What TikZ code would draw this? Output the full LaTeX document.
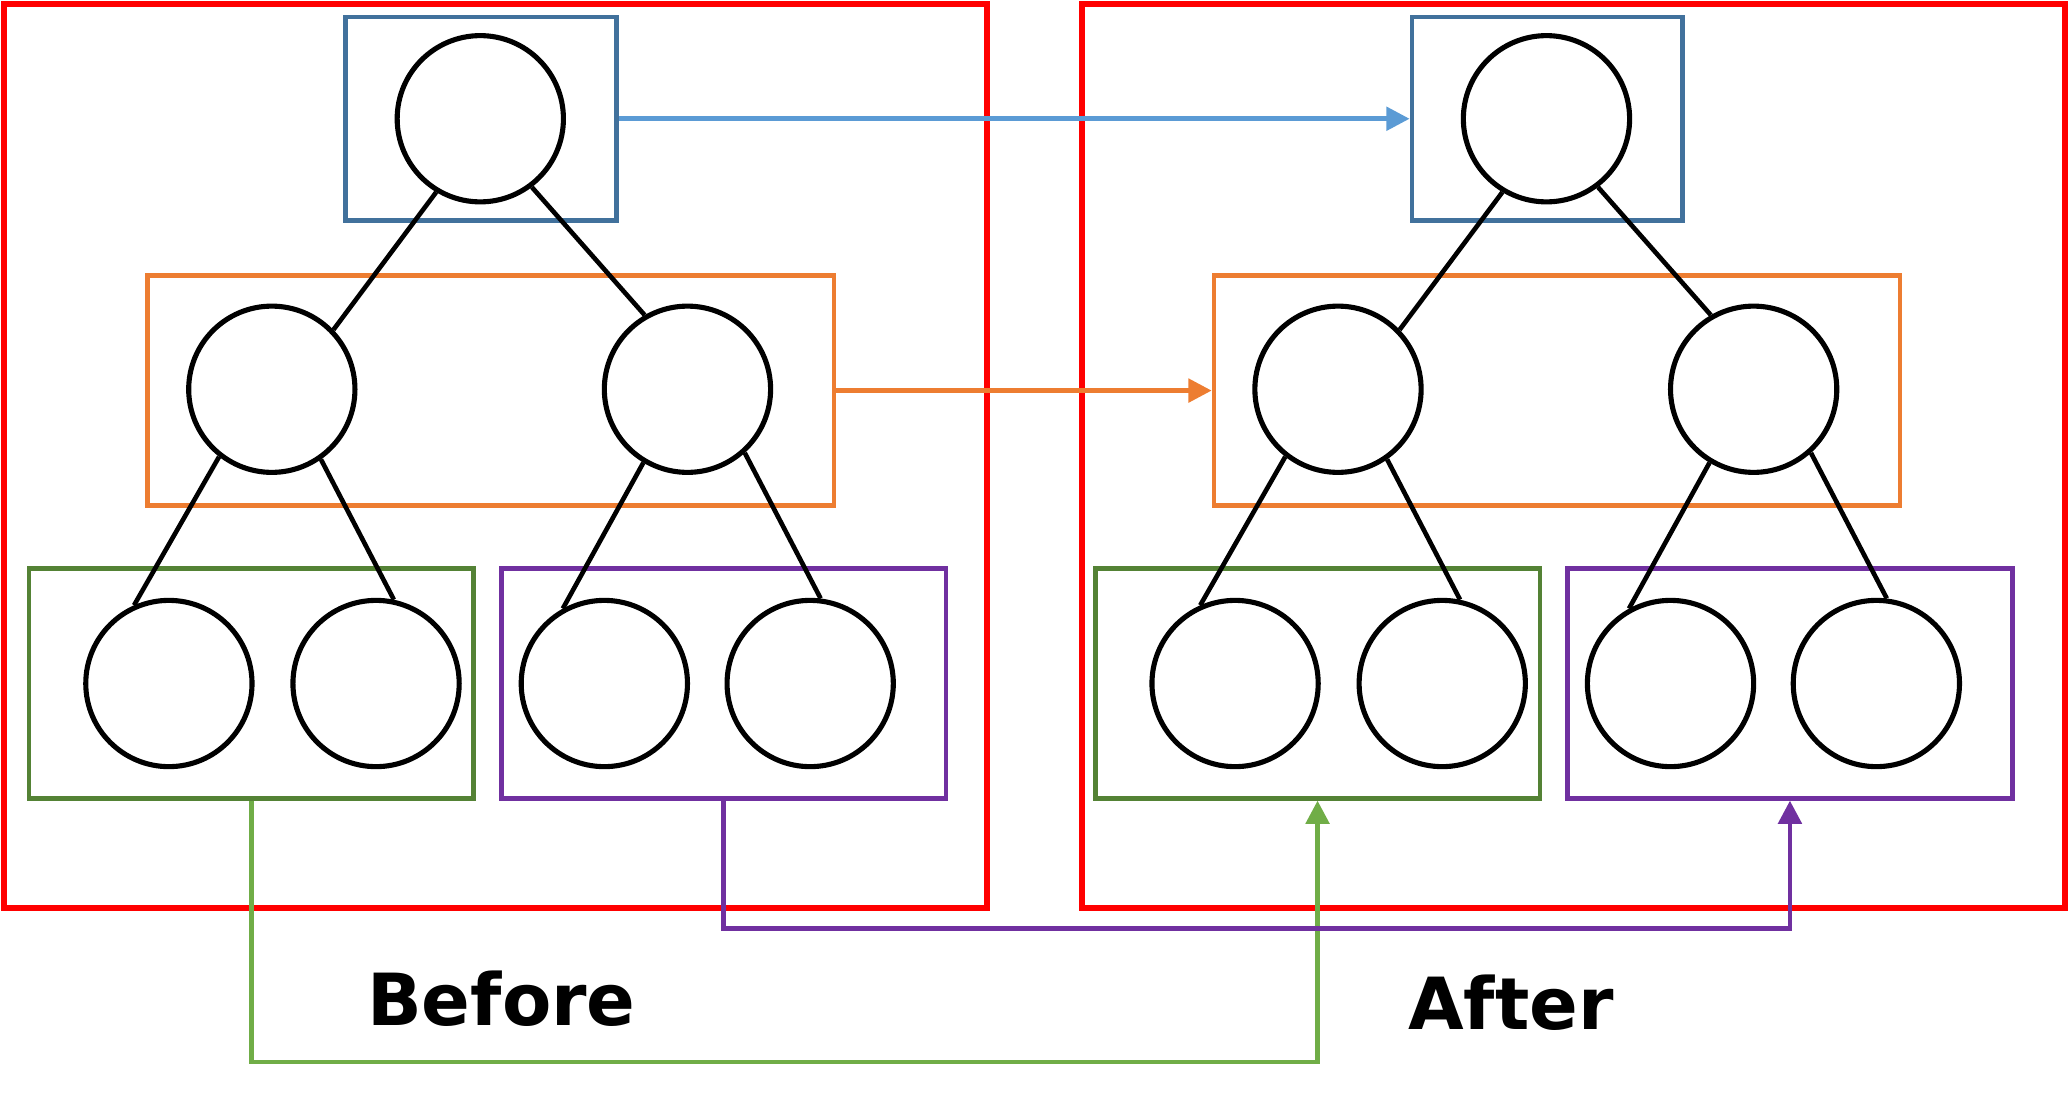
\documentclass[tikz,border=0pt]{standalone}
\usepackage{fontspec}
\setmainfont{Noto Sans}
\newfontfamily\lblfont{DejaVu Sans}
\usetikzlibrary{arrows.meta}
\definecolor{cblue}{HTML}{41719C}
\definecolor{cblueA}{HTML}{5B9BD5}
\definecolor{corange}{HTML}{ED7D31}
\definecolor{cgreen}{HTML}{548235}
\definecolor{cgreenA}{HTML}{70AD47}
\definecolor{cpurple}{HTML}{7030A0}
\begin{document}
\begin{tikzpicture}[
  tn/.style={circle,draw=black,line width=1.1pt,minimum size=1.26cm,inner sep=0pt},
  grp/.style={draw=#1,line width=1pt,inner sep=0pt},
  frame/.style={draw=red,line width=1.3pt,minimum width=7.45cm,minimum height=6.85cm,inner sep=0pt},
  ed/.style={draw=black,line width=1pt},
  conn/.style={draw=#1,line width=1pt,-{Triangle[length=5pt,width=5pt]}},
  lbl/.style={font=\lblfont\bfseries\fontsize{15.5}{18}\selectfont}
]
\useasboundingbox (0,0) rectangle (15.68,-8.314);
\node[frame] (Lframe) at (3.755,-3.455) {};
\node[frame] (Rframe) at (11.925,-3.455) {};
\foreach \s/\dx in {L/0,R/8.08}{
  \node[grp=cblue,minimum width=2.05cm,minimum height=1.54cm] (\s blue) at (3.645+\dx,-0.90) {};
  \node[grp=corange,minimum width=5.20cm,minimum height=1.74cm] (\s orange) at (3.72+\dx,-2.96) {};
  \node[grp=cgreen,minimum width=3.37cm,minimum height=1.74cm] (\s green) at (1.905+\dx,-5.18) {};
  \node[grp=cpurple,minimum width=3.37cm,minimum height=1.74cm] (\s purple) at (5.485+\dx,-5.18) {};
  \node[tn] (\s r) at (3.64+\dx,-0.90) {};
  \node[tn] (\s a) at (2.06+\dx,-2.95) {};
  \node[tn] (\s b) at (5.21+\dx,-2.95) {};
  \node[tn] (\s c) at (1.28+\dx,-5.18) {};
  \node[tn] (\s d) at (2.85+\dx,-5.18) {};
  \node[tn] (\s e) at (4.58+\dx,-5.18) {};
  \node[tn] (\s f) at (6.14+\dx,-5.18) {};
  \draw[ed] (\s r.239) -- (\s a.44);
  \draw[ed] (\s r.-53) -- (\s b.120);
  \draw[ed] (\s a.232) -- (\s c.114);
  \draw[ed] (\s a.-55) -- (\s d.78);
  \draw[ed] (\s b.239) -- (\s e.119);
  \draw[ed] (\s b.-48) -- (\s f.83);
}
\draw[conn=cblueA] (Lblue.east) -- (Rblue.west);
\draw[conn=corange] (Lorange.east) -- (Rorange.west);
\draw[conn=cgreenA] (Lgreen.south) -- ++(0,-1.98) coordinate (g1) -| (Rgreen.south);
\draw[conn=cpurple] (Lpurple.south) -- ++(0,-0.97) coordinate (p1) -| (Rpurple.south);
\node[lbl] (before) at (3.80,-7.57) {Before};
\node[lbl] (after) at (11.45,-7.60) {After};
\end{tikzpicture}
\end{document}
